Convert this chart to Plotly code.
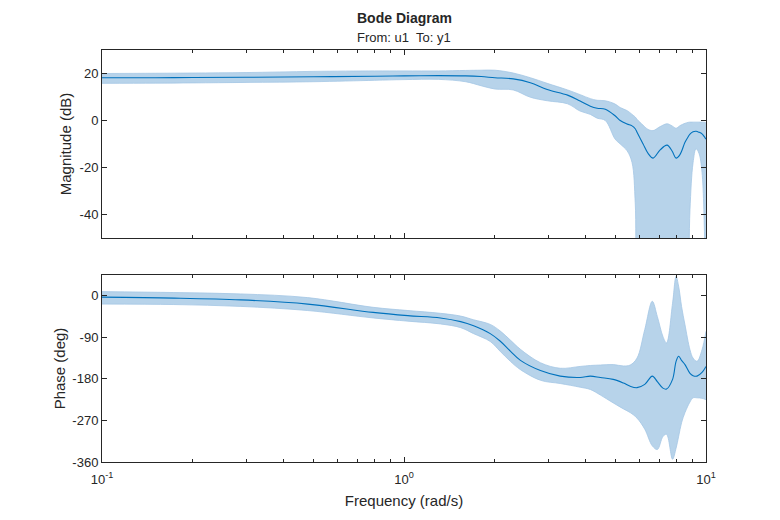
import plotly.graph_objects as go
from plotly.subplots import make_subplots

## Data

# magnitude (dB): frequency, response, confidence band
mag_freq = [0.10, 0.15, 0.20, 0.30, 0.50, 0.80, 1.00, 1.30, 1.60, 1.80, 2.00, 2.30, 2.62, 2.98,
            3.48, 3.83, 4.14, 4.36, 4.64, 5.00, 5.20, 5.48, 5.69, 5.83, 5.91, 6.19, 6.43, 6.68,
            7.05, 7.43, 7.72, 7.96, 8.20, 8.52, 8.72, 8.85, 9.06, 9.27, 9.48, 9.70, 9.92, 10.0]
mag_mean = [18.2, 18.2, 18.3, 18.4, 18.6, 18.8, 19.0, 19.1, 19.0, 18.7, 18.2, 17.7, 16.1, 13.2,
            10.8, 8.3, 6.1, 5.2, 4.8, 2.0, 0.0, -1.5, -2.3, -3.5, -5.0, -10.0, -14.0, -16.0,
            -12.5, -10.5, -13.0, -16.0, -14.5, -9.3, -7.0, -5.8, -4.8, -4.6, -5.0, -5.7, -7.3, -7.9]
mag_upper = [20.0, 20.1, 20.2, 20.4, 20.9, 21.1, 21.1, 21.1, 21.3, 21.4, 21.4, 20.2, 18.2, 15.8,
             13.0, 11.0, 9.3, 8.6, 8.4, 7.0, 5.5, 4.2, 2.6, 1.5, 0.5, -2.0, -3.8, -4.3,
             -2.6, -1.4, -2.3, -3.3, -2.2, -1.2, -0.8, -0.7, -0.7, -0.7, -0.7, -0.7, -0.8, -1.0]
mag_lower = [15.8, 15.9, 16.0, 16.2, 16.5, 17.1, 17.4, 17.5, 16.5, 14.8, 13.4, 13.0, 9.9, 8.4,
             7.1, 4.0, 2.6, 1.0, 0.0, -7.9, -10.0, -12.9, -17.9, -35.0, -65.0, -80.0, -80.0, -80.0,
             -80.0, -80.0, -80.0, -80.0, -80.0, -80.0, -70.0, -38.0, -18.0, -12.0, -14.0, -22.0, -55.0, -70.0]

# phase (deg)
ph_freq = [0.10, 0.173, 0.288, 0.48, 0.79, 1.03, 1.32, 1.54, 1.70, 1.93, 2.08, 2.25, 2.43, 2.83, 3.29,
           3.83, 4.14, 4.47, 4.93, 5.33, 5.61, 5.91, 6.27, 6.64, 6.90, 7.20, 7.40, 7.75, 7.96,
           8.12, 8.30, 8.52, 8.85, 9.06, 9.34, 9.70, 10.0]
ph_mean = [-3, -5, -9, -18, -36, -43, -48, -56, -65, -82, -98, -120, -140, -162, -174,
           -177, -174, -177, -181, -189, -196, -199, -192, -174, -186, -200, -202, -181, -142,
           -131, -140, -149, -168, -173, -174, -166, -153]
ph_upper = [9, 7, 4, -4, -25, -32, -38, -44, -52, -62, -76, -96, -116, -145, -157,
            -153, -151, -150, -149, -152, -150, -135, -73, -12, -45, -88, -102, -16, 42,
            20, -23, -63, -117, -135, -142, -117, -77]
ph_lower = [-18, -19, -23, -32, -48, -55, -61, -69, -82, -99, -120, -142, -160, -183, -190,
            -198, -203, -215, -232, -245, -253, -265, -289, -325, -333, -305, -300, -354, -330,
            -304, -275, -253, -230, -221, -221, -222, -225]

freq_ticks = [0.1, 1, 10]
freq_ticktext = ['10<sup>-1</sup>', '10<sup>0</sup>', '10<sup>1</sup>']
minor_ticks = [0.2, 0.3, 0.4, 0.5, 0.6, 0.7, 0.8, 0.9, 2, 3, 4, 5, 6, 7, 8, 9]
mag_ticks = [-40, -20, 0, 20]
ph_ticks = [-360, -270, -180, -90, 0]

## Styles

line_blue = '#0072BD'
band_fill = '#b7d3ea'
band_edge = '#a4c7e5'
axis_col = '#262626'
font_fam = 'Liberation Sans, Arial, sans-serif'

fig = make_subplots(rows=2, cols=1, vertical_spacing=0.0)


def add_band(freq, mean, upper, lower, row):
    fig.add_trace(go.Scatter(x=freq, y=upper, mode='lines', line=dict(color=band_edge, width=0.8, shape='spline'),
                             hoverinfo='skip', showlegend=False), row=row, col=1)
    fig.add_trace(go.Scatter(x=freq, y=lower, mode='lines', line=dict(color=band_edge, width=0.8, shape='spline'),
                             fill='tonexty', fillcolor=band_fill, hoverinfo='skip', showlegend=False), row=row, col=1)
    fig.add_trace(go.Scatter(x=freq, y=mean, mode='lines', line=dict(color=line_blue, width=1.1, shape='spline'),
                             showlegend=False), row=row, col=1)


add_band(mag_freq, mag_mean, mag_upper, mag_lower, 1)
add_band(ph_freq, ph_mean, ph_upper, ph_lower, 2)

axis_common = dict(showline=True, linecolor=axis_col, linewidth=1, mirror='ticks', ticks='inside',
                   ticklen=5, tickcolor=axis_col, showgrid=False, zeroline=False, automargin=False,
                   tickfont=dict(family=font_fam, size=13, color=axis_col))

for r in (1, 2):
    fig.update_xaxes(type='log', range=[-1, 1], tickvals=freq_ticks, ticktext=freq_ticktext,
                     minor=dict(tickvals=minor_ticks, ticks='inside', ticklen=3, tickcolor=axis_col),
                     row=r, col=1, **axis_common)
fig.update_xaxes(showticklabels=False, row=1, col=1)
fig.update_xaxes(ticklabelstandoff=5,
                 title=dict(text='Frequency (rad/s)', font=dict(family=font_fam, size=15, color=axis_col),
                            standoff=9), row=2, col=1)

# plain hyphen minus signs, as in the original
fig.update_yaxes(range=[-50, 30], tickvals=mag_ticks, ticktext=[str(t) for t in mag_ticks],
                 row=1, col=1, **axis_common)
fig.update_yaxes(title=dict(text='Magnitude (dB)', font=dict(family=font_fam, size=15, color=axis_col),
                            standoff=4), row=1, col=1)
fig.update_yaxes(range=[-360, 45], tickvals=ph_ticks, ticktext=[str(t) for t in ph_ticks],
                 row=2, col=1, **axis_common)
fig.update_yaxes(title=dict(text='Phase (deg)', font=dict(family=font_fam, size=15, color=axis_col),
                            standoff=3), row=2, col=1)

# the page puts the figure 8px in from the corner, so margins are shifted to match
fig.update_layout(
    width=780, height=520,
    margin=dict(l=94, r=82, t=42, b=66, autoexpand=False),
    paper_bgcolor='white', plot_bgcolor='white',
    xaxis=dict(domain=[0, 1]), xaxis2=dict(domain=[0, 1]),
    yaxis=dict(domain=[0.5437, 1.0]), yaxis2=dict(domain=[0.0, 0.4539]),
    annotations=[
        dict(text='<b>Bode Diagram</b>', x=0.5, y=1, xref='paper', yref='paper', yanchor='bottom',
             yshift=22, showarrow=False, font=dict(family=font_fam, size=14, color=axis_col)),
        dict(text='From: u1  To: y1', x=0.5, y=1, xref='paper', yref='paper', yanchor='bottom',
             yshift=3, showarrow=False, font=dict(family=font_fam, size=13, color=axis_col)),
    ],
)

fig.write_html('out.html')
